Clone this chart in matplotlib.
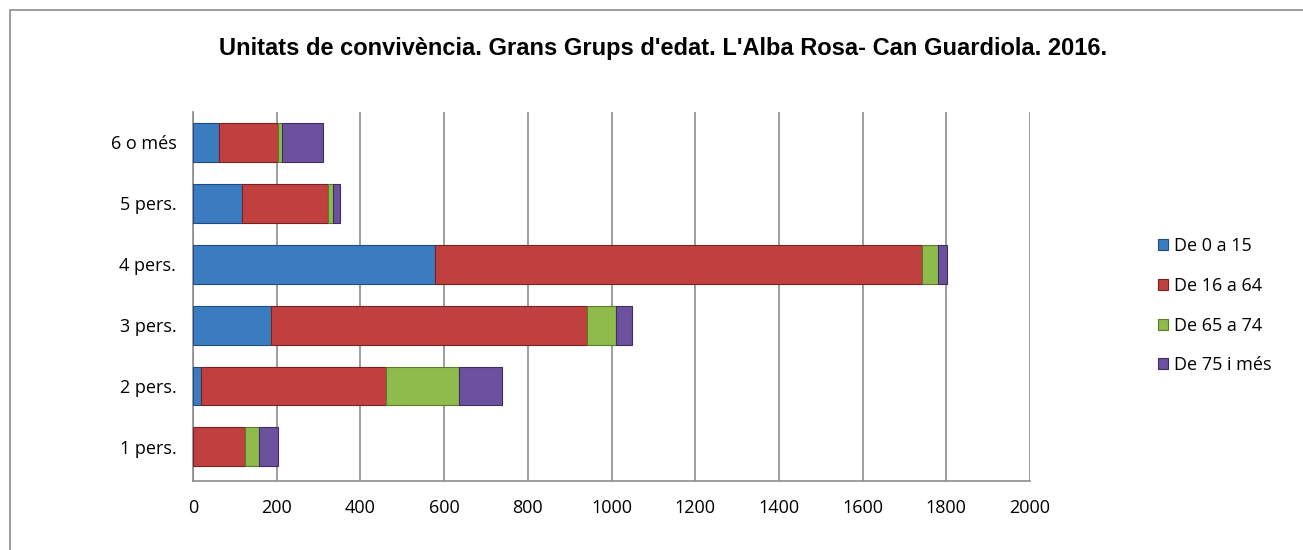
import numpy as np
import matplotlib.pyplot as plt
from matplotlib.patches import Rectangle

# dades
categories = ['1 pers.', '2 pers.', '3 pers.', '4 pers.', '5 pers.', '6 o més']
grups = ['De 0 a 15', 'De 16 a 64', 'De 65 a 74', 'De 75 i més']
de_0_15 = [0, 19, 186, 578, 116, 63]
de_16_64 = [124, 441, 755, 1165, 206, 139]
de_65_74 = [34, 176, 70, 36, 13, 11]
de_75_mes = [46, 103, 38, 22, 16, 97]

colors = ['#3b7cc0', '#c0403f', '#8fbb4c', '#6c519e']
edges = ['#1f4f80', '#7a2221', '#5a7d2a', '#3f2d66']

fig = plt.figure(figsize=(13.03, 5.5), dpi=100)
ax = fig.add_axes([193 / 1303, 1 - 481 / 550, (1030 - 193) / 1303, (481 - 112) / 550])

# marc del gràfic
fig.patches.append(Rectangle((10 / 1303, -0.1), 1.2, 1 - 10 / 550 + 0.1, transform=fig.transFigure,
                             fill=False, edgecolor='#8c8c8c', linewidth=1.2))

y = np.arange(len(categories))
series = [de_0_15, de_16_64, de_65_74, de_75_mes]
left = np.zeros(len(categories))
for vals, nom, c, e in zip(series, grups, colors, edges):
    ax.barh(y, vals, left=left, height=0.64, color=c, edgecolor=e, linewidth=0.8,
            label=nom, zorder=3)
    left += np.array(vals)

ax.set_xlim(0, 2000)
ax.set_ylim(-0.56, 5.5)
ax.set_xticks(np.arange(0, 2001, 200))
ax.set_yticks(y)
ax.set_yticklabels(categories)
ax.xaxis.grid(True, color='#8c8c8c', linewidth=1.2, zorder=0)
for s in ['top', 'right']:
    ax.spines[s].set_visible(False)
for s in ['left', 'bottom']:
    ax.spines[s].set_color('#8c8c8c')
    ax.spines[s].set_linewidth(1.2)
ax.tick_params(axis='y', length=0, labelsize=13, pad=12)
ax.tick_params(axis='x', length=0, labelsize=13, pad=13)
for lab in ax.get_xticklabels() + ax.get_yticklabels():
    lab.set_family(['Open Sans', 'DejaVu Sans'])

fig.text(0.5 * (222 + 1105) / 1303, 1 - 48 / 550,
         "Unitats de convivència. Grans Grups d'edat. L'Alba Rosa- Can Guardiola. 2016.",
         ha='center', va='center', fontsize=17, fontweight='bold', family='Liberation Sans')

leg = fig.legend(loc='upper left', bbox_to_anchor=(1142 / 1303, 1 - 221 / 550), frameon=False,
                 prop={'family': 'Open Sans', 'size': 13}, handlelength=0.55, handleheight=0.55,
                 handletextpad=0.3, labelspacing=1.2)

plt.savefig('out.png', dpi=100)
